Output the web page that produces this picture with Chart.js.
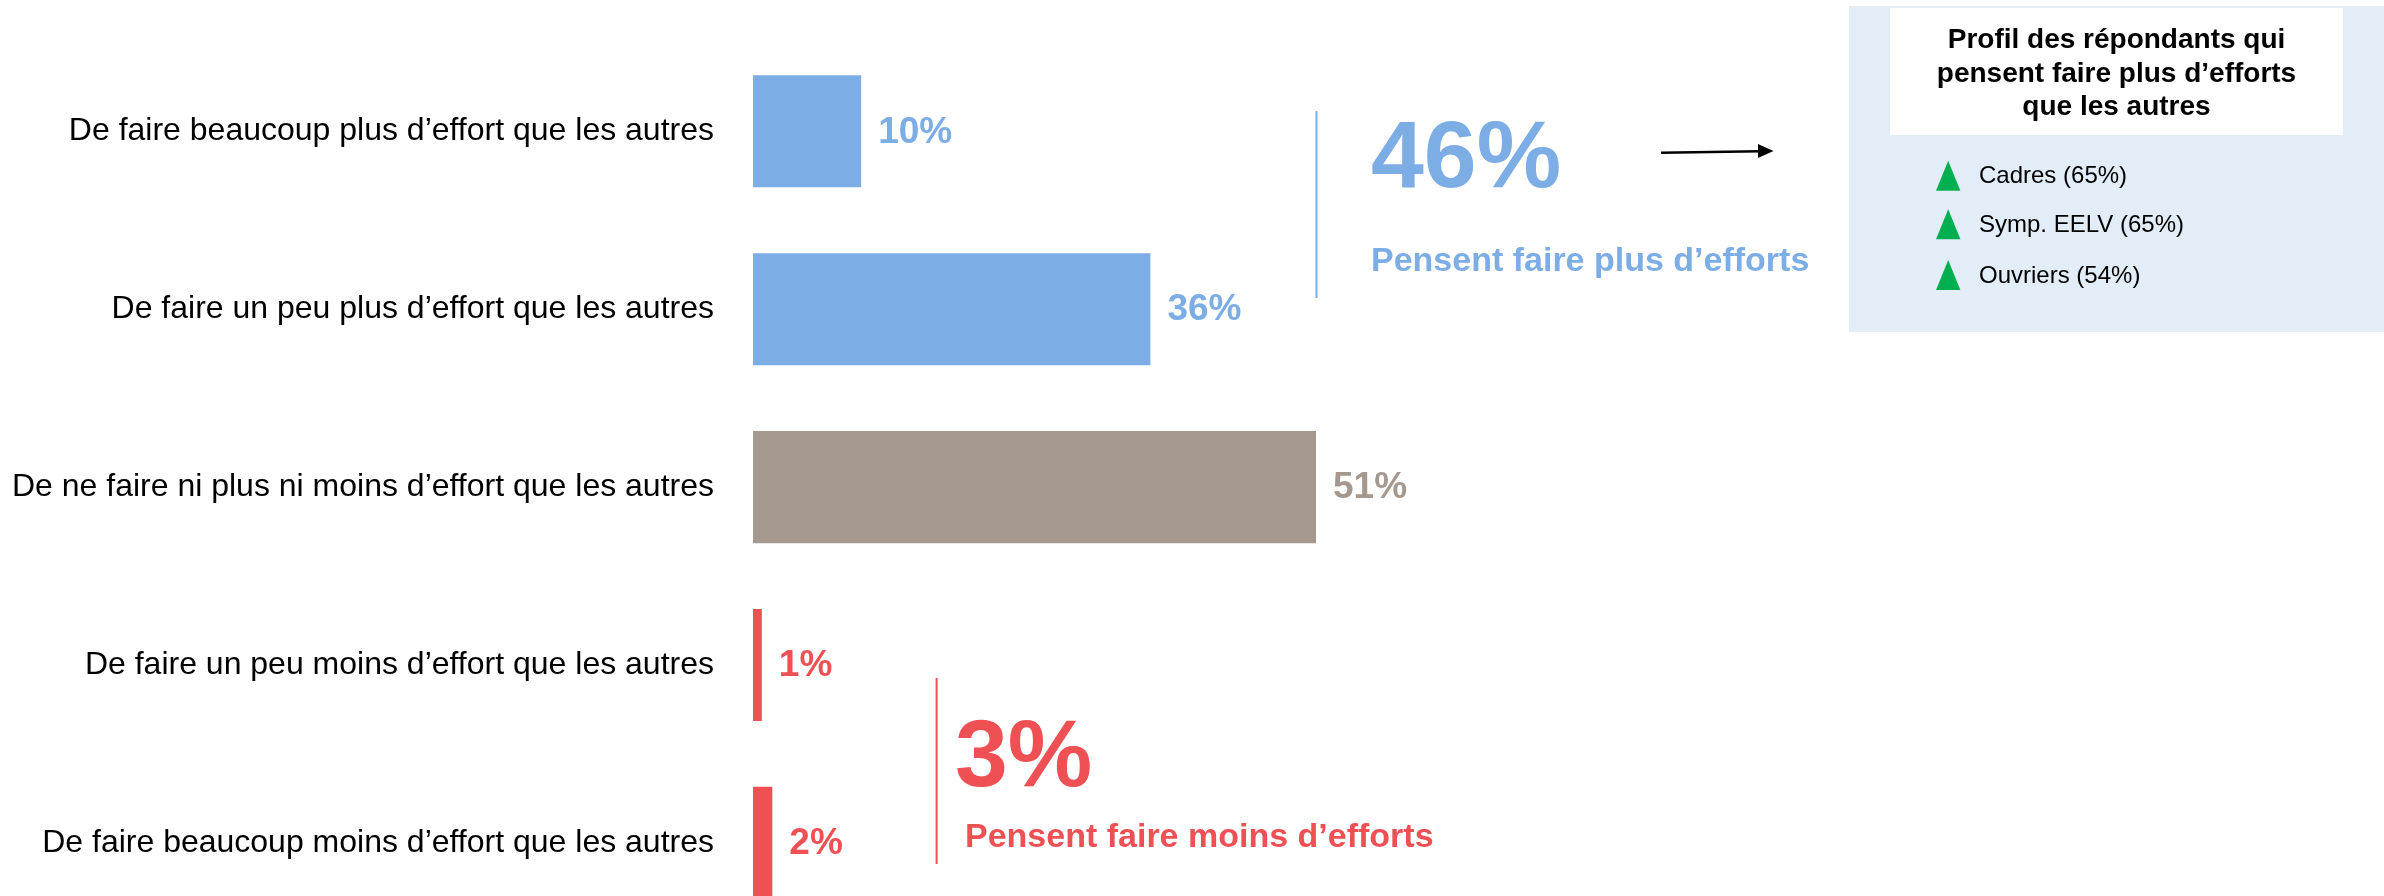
<!DOCTYPE html>
<html lang="fr">
<head>
<meta charset="utf-8">
<title>Effort comparé aux autres</title>
<script src="https://cdn.jsdelivr.net/npm/chart.js@4.4.1/dist/chart.umd.min.js"></script>
<style>
  html, body { margin: 0; padding: 0; background: #ffffff; overflow: hidden; }
  #wrap { position: relative; width: 2384px; height: 951px; }
  #c { position: absolute; left: 0; top: 0; }
  #overlay { position: absolute; left: 0; top: 0; pointer-events: none; }
  svg text { font-family: "Liberation Sans", Arial, sans-serif; }
</style>
</head>
<body>
<div id="wrap">
  <canvas id="c" width="2384" height="951"></canvas>
  <svg id="overlay" width="2384" height="896" viewBox="0 0 2384 896" xmlns="http://www.w3.org/2000/svg">
    <!-- Plus d'efforts summary -->
    <line x1="1316.5" y1="111" x2="1316.5" y2="298" stroke="#7DADE5" stroke-width="2"/>
    <text x="1371" y="187" font-size="95" font-weight="bold" fill="#7DADE5">46%</text>
    <text x="1371" y="271" font-size="34" font-weight="bold" fill="#7DADE5">Pensent faire plus d’efforts</text>
    <line x1="1661" y1="152.7" x2="1760" y2="151.3" stroke="#000" stroke-width="2.6"/>
    <polygon points="1773.5,151 1758,144 1758,158" fill="#000"/>

    <!-- Moins d'efforts summary -->
    <line x1="936.6" y1="678" x2="936.6" y2="864" stroke="#EF5054" stroke-width="2"/>
    <text x="955" y="786" font-size="95" font-weight="bold" fill="#EF5054">3%</text>
    <text x="965" y="847" font-size="34" font-weight="bold" fill="#EF5054">Pensent faire moins d’efforts</text>

    <!-- Profile panel -->
    <rect x="1849" y="6" width="535" height="326" fill="#E2EDF8"/>
    <rect x="1890" y="8" width="453" height="127" fill="#FFFFFF"/>
    <text x="2116.5" y="48" font-size="28" font-weight="bold" fill="#000" text-anchor="middle">Profil des répondants qui</text>
    <text x="2116.5" y="82" font-size="28" font-weight="bold" fill="#000" text-anchor="middle">pensent faire plus d’efforts</text>
    <text x="2116.5" y="115" font-size="28" font-weight="bold" fill="#000" text-anchor="middle">que les autres</text>

    <polygon points="1936,190.7 1960.4,190.7 1948.2,160.7" fill="#00B050"/>
    <text x="1979" y="182.7" font-size="24" fill="#000">Cadres (65%)</text>
    <polygon points="1936,239.3 1960.4,239.3 1948.2,209.3" fill="#00B050"/>
    <text x="1979" y="232.3" font-size="24" fill="#000">Symp. EELV (65%)</text>
    <polygon points="1936,290 1960.4,290 1948.2,260" fill="#00B050"/>
    <text x="1979" y="283.3" font-size="24" fill="#000">Ouvriers (54%)</text>
  </svg>
</div>
<script>
// ---- Data ----
const categories = [
  "De faire beaucoup plus d’effort que les autres",
  "De faire un peu plus d’effort que les autres",
  "De ne faire ni plus ni moins d’effort que les autres",
  "De faire un peu moins d’effort que les autres",
  "De faire beaucoup moins d’effort que les autres"
];
const values = [9.8, 36, 51, 0.8, 1.75];
const barColors = ["#7DADE5", "#7DADE5", "#A5988F", "#EF5054", "#EF5054"];

const FONT = '"Liberation Sans", Arial, sans-serif';

const valueLabels = {
  id: 'valueLabels',
  afterDatasetsDraw(chart) {
    const ctx = chart.ctx;
    const meta = chart.getDatasetMeta(0);
    ctx.save();
    ctx.font = 'bold 37px ' + FONT;
    ctx.textAlign = 'left';
    ctx.textBaseline = 'middle';
    meta.data.forEach((bar, i) => {
      ctx.fillStyle = barColors[i];
      ctx.fillText(Math.round(values[i]) + '%', bar.x + 17, bar.y + 1);
    });
    ctx.restore();
  }
};

new Chart(document.getElementById('c'), {
  type: 'bar',
  data: {
    labels: categories,
    datasets: [{
      data: values,
      backgroundColor: barColors,
      borderWidth: 0,
      categoryPercentage: 1,
      barPercentage: 0.63
    }]
  },
  options: {
    indexAxis: 'y',
    responsive: false,
    animation: false,
    devicePixelRatio: 1,
    layout: { padding: { top: 42.4, bottom: 9, left: 0, right: 527 } },
    plugins: {
      legend: { display: false },
      tooltip: { enabled: false },
      title: { display: false }
    },
    scales: {
      x: { min: 0, max: 100, display: false },
      y: {
        grid: {
          display: true,
          drawOnChartArea: false,
          drawTicks: true,
          tickLength: 39,
          color: 'rgba(0,0,0,0)'
        },
        border: { display: false },
        ticks: {
          color: '#000000',
          padding: 0,
          font: { family: FONT, size: 32 }
        },
        afterFit(scale) { scale.width = 753; }
      }
    }
  },
  plugins: [valueLabels]
});
</script>
</body>
</html>
